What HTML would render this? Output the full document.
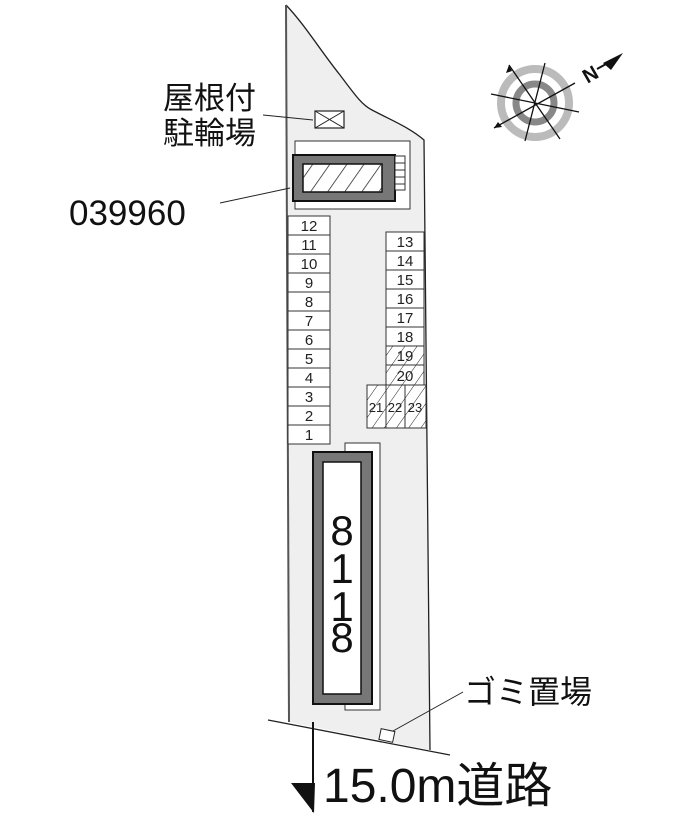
<!DOCTYPE html>
<html><head><meta charset="utf-8"><style>
html,body{margin:0;padding:0;background:#fff;width:700px;height:825px;overflow:hidden}
</style></head><body>
<svg width="700" height="825" viewBox="0 0 700 825" xmlns="http://www.w3.org/2000/svg" font-family="Liberation Sans, Noto Sans CJK JP, sans-serif">
<defs>
<pattern id="h" width="10" height="10" patternUnits="userSpaceOnUse" patternTransform="rotate(35)">
<line x1="0" y1="0" x2="0" y2="10" stroke="#222" stroke-width="1"/>
</pattern>
<pattern id="h2" width="14" height="14" patternUnits="userSpaceOnUse" patternTransform="rotate(35)">
<line x1="0" y1="0" x2="0" y2="14" stroke="#222" stroke-width="1.5"/>
</pattern>
</defs>
<path d="M286,5 C305,25 320,50 340,75 C355,95 362,105 372,110 C395,122 410,128 424,140 L430,750 L288,722 Z" fill="#efefef" stroke="none"/>
<path d="M286,5 C305,25 320,50 340,75 C355,95 362,105 372,110 C395,122 410,128 424,140 L430,750" fill="none" stroke="#222" stroke-width="1.3"/>
<line x1="286" y1="5" x2="289" y2="722" stroke="#555" stroke-width="2"/>
<line x1="268" y1="720" x2="450" y2="755" stroke="#222" stroke-width="1.3"/>
<rect x="315" y="111" width="29" height="17" fill="#fff" stroke="#222" stroke-width="1.2"/>
<path d="M315,111 L344,128 M344,111 L315,128" stroke="#222" stroke-width="1"/>
<line x1="263" y1="115" x2="313" y2="120" stroke="#222" stroke-width="1"/>
<rect x="295" y="141" width="115" height="68" fill="#fff" stroke="#333" stroke-width="1"/>
<rect x="293" y="155" width="102" height="46" fill="#777" stroke="#111" stroke-width="2"/>
<rect x="303" y="164" width="79" height="28" fill="#fff" stroke="#111" stroke-width="1.5"/>
<rect x="303" y="164" width="79" height="28" fill="url(#h2)"/>
<rect x="395" y="156" width="10" height="34" fill="#fff" stroke="#333"/>
<path d="M395,163 H405 M395,170 H405 M395,177 H405 M395,184 H405" stroke="#333"/>
<line x1="220" y1="203" x2="290" y2="188" stroke="#222" stroke-width="1"/>
<g fill="#fff" stroke="#333" stroke-width="1">
<rect x="288" y="216" width="42" height="19"/><rect x="288" y="235" width="42" height="19"/>
<rect x="288" y="254" width="42" height="19"/><rect x="288" y="273" width="42" height="19"/>
<rect x="288" y="292" width="42" height="19"/><rect x="288" y="311" width="42" height="19"/>
<rect x="288" y="330" width="42" height="19"/><rect x="288" y="349" width="42" height="19"/>
<rect x="288" y="368" width="42" height="19"/><rect x="288" y="387" width="42" height="19"/>
<rect x="288" y="406" width="42" height="19"/><rect x="288" y="425" width="42" height="19"/>
</g>
<g font-size="15" text-anchor="middle" fill="#222">
<text x="309" y="231">12</text><text x="309" y="250">11</text><text x="309" y="269">10</text>
<text x="309" y="288">9</text><text x="309" y="307">8</text><text x="309" y="326">7</text>
<text x="309" y="345">6</text><text x="309" y="364">5</text><text x="309" y="383">4</text>
<text x="309" y="402">3</text><text x="309" y="421">2</text><text x="309" y="440">1</text>
</g>
<g fill="#fff" stroke="#333" stroke-width="1">
<rect x="386" y="232" width="38" height="19"/><rect x="386" y="251" width="38" height="19"/>
<rect x="386" y="270" width="38" height="19"/><rect x="386" y="289" width="38" height="19"/>
<rect x="386" y="308" width="38" height="19"/><rect x="386" y="327" width="38" height="19"/>
<rect x="386" y="346" width="38" height="19"/><rect x="386" y="365" width="38" height="20"/>
<rect x="367" y="385" width="19" height="43"/><rect x="386" y="385" width="19" height="43"/><rect x="405" y="385" width="21" height="43"/>
</g>
<g fill="url(#h)">
<rect x="386" y="346" width="38" height="39"/><rect x="367" y="385" width="59" height="43"/>
</g>
<g font-size="15" text-anchor="middle" fill="#222">
<text x="405" y="247">13</text><text x="405" y="266">14</text><text x="405" y="285">15</text>
<text x="405" y="304">16</text><text x="405" y="323">17</text><text x="405" y="342">18</text>
<text x="405" y="361">19</text><text x="405" y="381">20</text>
<text x="376" y="412" font-size="13">21</text><text x="395" y="412" font-size="13">22</text><text x="415" y="412" font-size="13">23</text>
</g>
<rect x="345" y="443" width="35" height="267" fill="#fff" stroke="#333" stroke-width="1"/>
<rect x="313" y="452" width="59" height="252" fill="#777" stroke="#111" stroke-width="2"/>
<rect x="323" y="462" width="38" height="232" fill="#fff" stroke="#111" stroke-width="1.5"/>
<g font-size="42" text-anchor="middle" fill="#111">
<text x="342" y="545">8</text>
<text x="342" y="583">1</text>
<text x="342" y="621">1</text>
<text x="342" y="652">8</text>
</g>
<rect x="380" y="730" width="14" height="11" fill="#fff" stroke="#222" transform="rotate(12 387 735)"/>
<line x1="393" y1="731" x2="463" y2="692" stroke="#222" stroke-width="1"/>
<line x1="313" y1="722" x2="313" y2="812" stroke="#111" stroke-width="2"/>
<path d="M291,783 L315,783 L314,813 Z" fill="#111"/>
<text x="163" y="109" font-size="31" fill="#111">屋根付</text>
<text x="163" y="144" font-size="31" fill="#111">駐輪場</text>
<text x="69" y="225" font-size="35" fill="#111">039960</text>
<text x="464" y="703" font-size="32" fill="#111">ゴミ置場</text>
<text x="323" y="802" font-size="48" fill="#111">15.0m道路</text>
<g transform="translate(535,103)">
<circle r="34" fill="none" stroke="#bbb" stroke-width="8"/>
<circle r="19" fill="none" stroke="#888" stroke-width="7"/>
<line x1="-26" y1="-38" x2="25" y2="36" stroke="#111" stroke-width="1.3"/>
<line x1="10" y1="-40" x2="-10" y2="38" stroke="#111" stroke-width="1.3"/>
<line x1="-44" y1="-9" x2="44" y2="9" stroke="#111" stroke-width="1.3"/>
<line x1="-41" y1="25" x2="40" y2="-20" stroke="#111" stroke-width="1.3"/>
<path d="M-26,-38 l-3,8 l6,-2 Z M-41,25 l8,-1 l-4,-5 Z" fill="#111"/>
<text x="48" y="-20" font-size="20" font-weight="bold" fill="#111" transform="rotate(-30 52 -28)">N</text>
<path d="M68,-40 L88,-50 L76,-33 Z" fill="#111"/>
<line x1="62" y1="-34" x2="82" y2="-45" stroke="#111" stroke-width="2"/>
</g>
</svg>
</body></html>
